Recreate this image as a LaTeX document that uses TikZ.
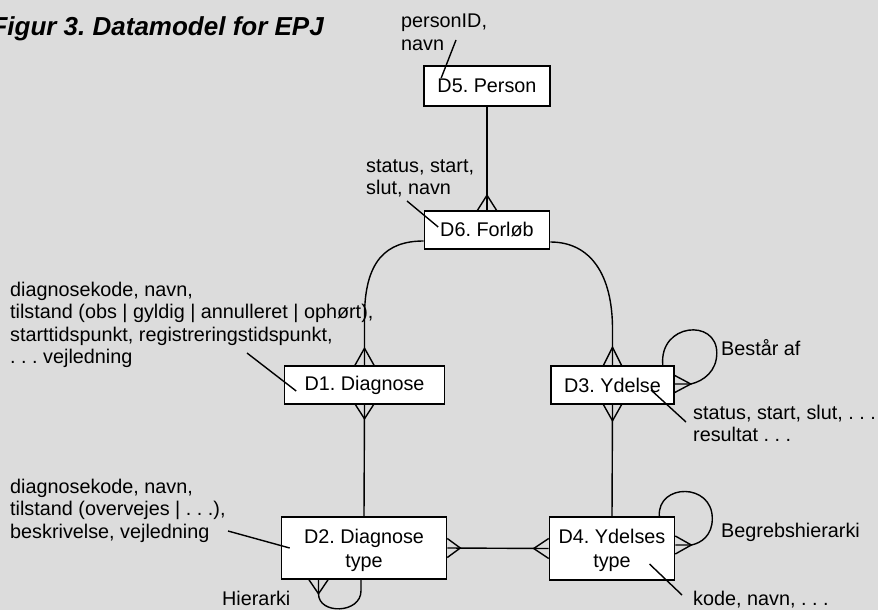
\documentclass[tikz,border=0pt]{standalone}
\usepackage{fontspec}
\setmainfont{Liberation Sans}
\usetikzlibrary{calc}
\definecolor{canvas}{RGB}{220,220,220}
% left-aligned block of lines whose reference point is the first baseline
\newcommand\stacklines[1]{\begin{tabular}[t]{@{}l@{}}#1\end{tabular}}
\frenchspacing
\begin{document}
\begin{tikzpicture}[x=1pt,y=-1pt,
  every node/.style={font=\fontsize{19.8}{22.5}\selectfont},
  entity/.style={draw,line width=1.6pt,fill=white,inner sep=0pt,align=center,
    font=\fontsize{19.8}{24}\selectfont},
  link/.style={line width=1.4pt},
  note/.style={anchor=base west,inner sep=0pt},
  tag/.style={anchor=base west,inner sep=0pt},
]
\useasboundingbox (0,0) rectangle (878,610);
\fill[canvas] (0,0) rectangle (878,610);
\clip (0,0) rectangle (878,610);

% title
\node[anchor=base east,inner sep=0pt,font=\fontsize{26}{30}\selectfont\bfseries\itshape]
  (title) at (324,36) {Figur 3. Datamodel for EPJ};

% entities
\node[entity,minimum width=126,minimum height=40] (d5) at (487,86) {D5. Person};
\node[entity,minimum width=125,minimum height=38] (d6) at (487,230) {D6. Forløb};
\node[entity,minimum width=160,minimum height=38] (d1) at (364.5,385) {D1. Diagnose};
\node[entity,minimum width=123,minimum height=38] (d3) at (612.5,385) {D3. Ydelse};
\node[entity,minimum width=165,minimum height=62,text depth=0pt] (d2) at (364,548) {D2. Diagnose\\type};
\node[entity,minimum width=125,minimum height=63,text depth=0pt] (d4) at (612,548.5) {D4. Ydelses\\type};

% attribute notes
\node[note] (d5note) at (401,28) {\stacklines{personID,\\navn}};
\node[note] (d6note) at (366,172) {\stacklines{status, start,\\slut, navn}};
\node[note] (d1note) at (10,296) {\stacklines{diagnosekode, navn,\\tilstand (obs | gyldig | annulleret | ophørt),\\starttidspunkt, registreringstidspunkt,\\. . . vejledning}};
\node[note] (d2note) at (10,493) {\stacklines{diagnosekode, navn,\\tilstand (overvejes | . . .),\\beskrivelse, vejledning}};
\node[note] (d3note) at (693,419) {\stacklines{status, start, slut, . . .\\resultat . . .}};
\node[note] (d4note) at (693,605) {kode, navn, . . .};

% relation labels
\node[tag] (lbld3) at (721,355) {Består af};
\node[tag] (lbld4) at (721,537) {Begrebshierarki};
\node[tag] (lbld2) at (222,605) {Hierarki};

% leader lines from notes into entities
\coordinate (n5a) at (456,40);   \coordinate (n5b) at ($(d5.west)+(18,-8)$);
\coordinate (n6a) at (407,201);  \coordinate (n6b) at ($(d6.west)+(14.5,-3)$);
\coordinate (n1a) at (247,353);  \coordinate (n1b) at ($(d1.west)+(12.5,6)$);
\coordinate (n2a) at (228,531);  \coordinate (n2b) at ($(d2.west)+(9,0)$);
\coordinate (n3a) at ($(d3.center)+(38.5,5)$); \coordinate (n3b) at (686,422);
\coordinate (n4a) at ($(d4.center)+(37.5,15.5)$); \coordinate (n4b) at (682,595);
\draw[link] (n5a) -- (n5b);
\draw[link] (n6a) -- (n6b);
\draw[link] (n1a) -- (n1b);
\draw[link] (n2a) -- (n2b);
\draw[link] (n3a) -- (n3b);
\draw[link] (n4a) -- (n4b);

% D5 -- D6
\draw[link] (d5.south) -- (d6.north);
\draw[link] ($(d6.north)+(-9.5,0)$) -- ($(d6.north)+(0,-15)$) -- ($(d6.north)+(9.5,0)$);

% D6 -- D1
\draw[link] ($(d6.west)+(0,11)$) .. controls +(-38,0) and +(0,-56) .. ($(d1.north)+(0,-48)$) -- (d1.north);
\draw[link] ($(d1.north)+(-9.5,0)$) -- ($(d1.north)+(0,-17)$) -- ($(d1.north)+(9.5,0)$);

% D6 -- D3
\draw[link] ($(d6.east)+(0,12)$) .. controls +(40,0) and +(0,-55) .. ($(d3.north)+(0,-36)$) -- (d3.north);
\draw[link] ($(d3.north)+(-9,0)$) -- ($(d3.north)+(0,-18)$) -- ($(d3.north)+(9,0)$);

% D1 -- D2
\draw[link] (d1.south) -- (d2.north);
\draw[link] ($(d1.south)+(-9,0)$) -- ($(d1.south)+(0,14)$) -- ($(d1.south)+(9,0)$);

% D3 -- D4
\draw[link] (d3.south) -- (d4.north);
\draw[link] ($(d3.south)+(-9,0)$) -- ($(d3.south)+(0,16)$) -- ($(d3.south)+(9,0)$);

% D2 -- D4
\draw[link] (d2.east) -- (d4.west);
\draw[link] ($(d2.east)+(0,-9.5)$) -- ($(d2.east)+(13,0)$) -- ($(d2.east)+(0,9.5)$);
\draw[link] ($(d4.west)+(0,-10)$) -- ($(d4.west)+(-15,0)$) -- ($(d4.west)+(0,10)$);

% D3 self relation: Består af
\coordinate (d3foot) at ($(d3.east)+(0,-1)$);
\draw[link] ($(d3.north east)+(-12,0)$) .. controls +(-4,-42) and +(0,-35) .. ($(d3.east)+(42,-32)$)
  .. controls +(0,18) and +(13,-3) .. ($(d3foot)+(16,0)$) -- (d3foot);
\draw[link] ($(d3foot)+(0,-8.5)$) -- ($(d3foot)+(16,0)$) -- ($(d3foot)+(0,8.5)$);

% D4 self relation: Begrebshierarki
\coordinate (d4foot) at ($(d4.east)+(0,-3.5)$);
\draw[link] ($(d4.north east)+(-16,0)$) .. controls +(-2,-33) and +(0,-36) .. ($(d4.east)+(37,-30)$)
  .. controls +(0,17) and +(10,-2) .. ($(d4foot)+(16,0)$) -- (d4foot);
\draw[link] ($(d4foot)+(0,-9)$) -- ($(d4foot)+(16,0)$) -- ($(d4foot)+(0,9)$);

% D2 self relation: Hierarki
\coordinate (d2foot) at ($(d2.south)+(-45.5,0)$);
\draw[link] (d2foot) -- ($(d2foot)+(0,14)$) .. controls +(0,21) and +(0,23) .. ($(d2.south)+(-3,11)$) -- ($(d2.south)+(-3,0)$);
\draw[link] ($(d2foot)+(-9.5,0)$) -- ($(d2foot)+(0,14)$) -- ($(d2foot)+(9.5,0)$);
\end{tikzpicture}
\end{document}
